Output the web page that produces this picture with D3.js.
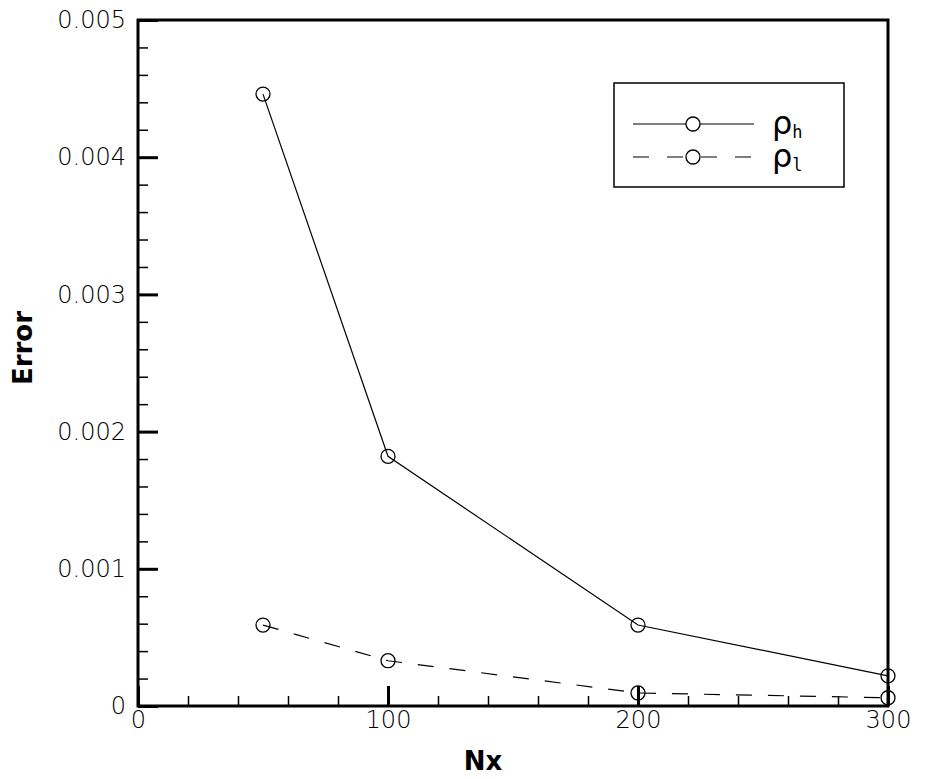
<!DOCTYPE html><html><head><meta charset="utf-8"><script src="https://cdn.jsdelivr.net/npm/d3@7"></script>
<style>body{margin:0;background:#fff}text{font-family:"DejaVu Sans",sans-serif}</style></head><body>
<svg id="c" width="928" height="779"></svg>
<script>
const nx=[50,100,200,300];
const rhoH=[0.00446,0.00182,0.00059,0.00022];
const rhoL=[0.00059,0.00033,0.000095,0.00006];
const xTicks=[0,100,200,300];
const yTicks=[0,0.001,0.002,0.003,0.004,0.005];
const svg=d3.select("#c");
const L=138,R=888,T=20,B=706;
const x=d3.scaleLinear().domain([0,300]).range([L,R]);
const y=d3.scaleLinear().domain([0,0.005]).range([B,T]);
svg.append("rect").attr("x",L).attr("y",T).attr("width",R-L).attr("height",B-T).attr("fill","none").attr("stroke","#000").attr("stroke-width",3);
const xa=svg.append("g").attr("transform",`translate(0,${B})`).call(d3.axisBottom(x).tickValues(xTicks).tickFormat(d3.format("d")).tickSize(-20));
const xm=svg.append("g").attr("transform",`translate(0,${B})`).call(d3.axisBottom(x).tickValues(d3.range(0,301,20)).tickFormat("").tickSize(-10));
const ya=svg.append("g").attr("transform",`translate(${L},0)`).call(d3.axisLeft(y).tickValues(yTicks).tickFormat(d=>d===0?"0":d3.format(".3f")(d)).tickSize(-20));
const ym=svg.append("g").attr("transform",`translate(${L},0)`).call(d3.axisLeft(y).tickValues(d3.range(0,0.00501,0.0002)).tickFormat("").tickSize(-10));
[xa,xm,ya,ym].forEach(g=>{g.attr("font-size",null).select(".domain").remove();g.selectAll("line").attr("stroke","#000").attr("stroke-width",1.5);});
xa.selectAll("line").attr("stroke-width",3);ya.selectAll("line").attr("stroke-width",3);
xa.selectAll("text").attr("y",5).attr("font-size",24).attr("fill","#000").attr("font-family","Liberation Sans").attr("font-weight",300);
ya.selectAll("text").attr("x",-12).attr("font-size",24).attr("fill","#000").attr("font-family","Liberation Sans").attr("font-weight",300);
svg.append("text").attr("x",(L+R)/2-30).attr("y",770).attr("text-anchor","middle").attr("font-size",26).attr("font-weight","bold").text("Nx");
svg.append("text").attr("transform",`translate(32,${(T+B)/2-15}) rotate(-90)`).attr("text-anchor","middle").attr("font-size",26).attr("font-weight","bold").text("Error");
const line=d3.line().x((d,i)=>x(nx[i])).y(d=>y(d));
function series(v,dash){
 svg.append("path").attr("d",line(v)).attr("fill","none").attr("stroke","#000").attr("stroke-width",1.2).attr("stroke-dasharray",dash);
 svg.selectAll(null).data(v).enter().append("circle").attr("cx",(d,i)=>x(nx[i])).attr("cy",d=>y(d)).attr("r",7).attr("fill","none").attr("stroke","#000").attr("stroke-width",1.3);
}
series(rhoH,null);series(rhoL,"16,16");
const lg=svg.append("g");
lg.append("rect").attr("x",614).attr("y",83).attr("width",230).attr("height",104).attr("fill","#fff").attr("stroke","#000").attr("stroke-width",1.5);
[[null,124,"h"],["16,18",157,"l"]].forEach(([dash,yy,s])=>{
 lg.append("line").attr("x1",633).attr("x2",754).attr("y1",yy).attr("y2",yy).attr("stroke","#000").attr("stroke-width",1.2).attr("stroke-dasharray",dash);
 lg.append("circle").attr("cx",693).attr("cy",yy).attr("r",7).attr("fill","#fff").attr("stroke","#000").attr("stroke-width",1.3);
 const t=lg.append("text").attr("x",772).attr("y",yy+10).attr("font-size",32).attr("font-family","DejaVu Sans");
 t.append("tspan").text("ρ");t.append("tspan").attr("font-size",17).attr("font-family","DejaVu Sans Mono").attr("dy",4).text(s);
});
</script></body></html>
